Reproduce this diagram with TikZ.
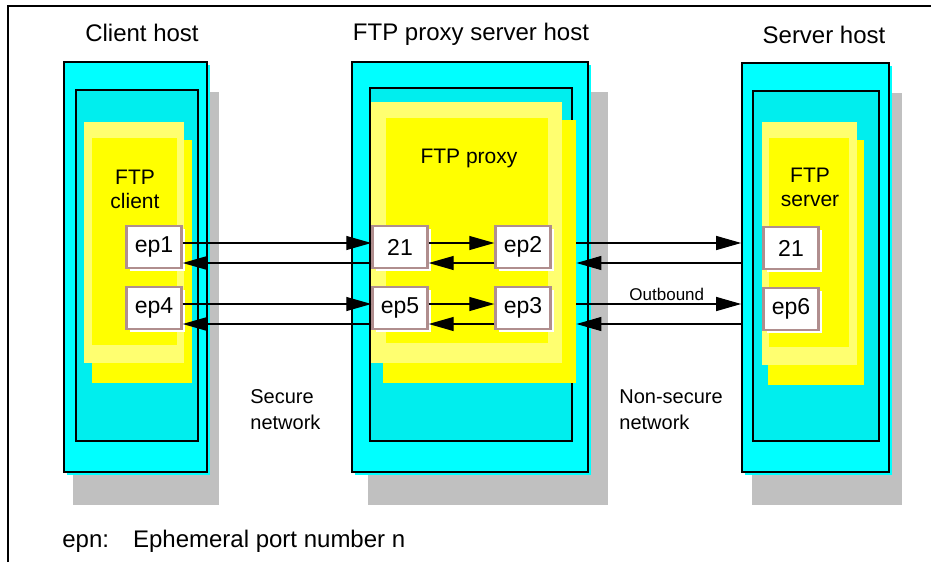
\documentclass[tikz,border=0pt]{standalone}
\usepackage{fontspec}
\setmainfont{Liberation Sans}
\usepackage{tikz}
\usetikzlibrary{positioning, arrows.meta, fit, shadows}
\definecolor{hostCyan}{HTML}{00FFFF}
\definecolor{innerCyan}{HTML}{00EEEE}
\definecolor{shadowGray}{HTML}{C0C0C0}
\definecolor{appYellow}{HTML}{FFFF00}
\definecolor{appPale}{HTML}{FFFF70}
\definecolor{portRose}{HTML}{B08E8E}
\tikzset{
  hostbox/.style={rectangle, draw=black, line width=0.8pt, fill=hostCyan,
    inner sep=0pt},
  innerbox/.style={rectangle, draw=black, line width=0.8pt, fill=innerCyan,
    inner sep=0pt},
  appbox/.style={rectangle, fill=appYellow, inner sep=0pt},
  port/.style={rectangle, draw=portRose, line width=1.2pt, fill=white,
    minimum width=27.5pt, minimum height=21pt, inner sep=0pt,
    font=\fontsize{11.5}{13}\selectfont,
    drop shadow={fill=white, opacity=1, shadow xshift=1.5pt,
      shadow yshift=-1.5pt}},
  flow/.style={-{Triangle[length=12.5pt, width=7pt]}, line width=0.6pt},
  hosttitle/.style={font=\fontsize{12}{14}\selectfont},
  applabel/.style={font=\fontsize{10.5}{12}\selectfont, align=center},
  netlabel/.style={font=\fontsize{10}{13}\selectfont, align=left,
    anchor=west, inner sep=0pt},
}

\begin{document}
\begin{tikzpicture}[x=0.5pt, y=-0.5pt]
    \useasboundingbox (0,0) rectangle (931,562);
    \draw[line width=0.6pt] (8,562) -- (8,6) -- (931,6);
    % ---------------- Client host ----------------
    \begin{scope}
      \fill[shadowGray] (73,92) rectangle (219,505);
      \fill[hostCyan] (67,65) rectangle (210,475);
      \node[hostbox, fit={(64,62) (207,472)}] (client) {};
      \node[innerbox, fit={(76,90) (198,441)}] (clientin) {};
      \fill[appYellow] (92,140) rectangle (192,383);
      \fill[appPale] (84,122) rectangle (184,363);
      \node[appbox, fit={(92,138) (177,345)}] (clientapp) {};
      \node[applabel] at (135,189) {FTP\\client};
      \node[port] (ep1) at (154,247) {ep1};
      \node[port] (ep4) at (154,308) {ep4};
      \node[hosttitle] at (142,33) {Client host};
    \end{scope}
    % ---------------- FTP proxy server host ----------------
    \begin{scope}
      \fill[shadowGray] (368,92) rectangle (608,505);
      \fill[hostCyan] (355,65) rectangle (591,475);
      \node[hostbox, fit={(352,62) (588,472)}] (proxy) {};
      \node[innerbox, fit={(370,88) (572,441)}] (proxyin) {};
      \node[appbox, fit={(383,120) (576,383)}] (proxyapp) {};
      \fill[appPale] (371,102) rectangle (562,363);
      \fill[appYellow] (386,118) rectangle (548,343);
      \node[applabel] at (469,158) {FTP proxy};
      \node[port] (p21) at (400,247) {21};
      \node[port] (ep2) at (523,247) {ep2};
      \node[port] (ep5) at (400,308) {ep5};
      \node[port] (ep3) at (523,308) {ep3};
      \node[hosttitle] at (471,34) {FTP proxy server host};
    \end{scope}
    % ---------------- Server host ----------------
    \begin{scope}
      \fill[shadowGray] (752,93) rectangle (902,505);
      \fill[hostCyan] (745,66) rectangle (892,475);
      \node[hostbox, fit={(742,63) (889,472)}] (server) {};
      \node[innerbox, fit={(753,91) (879,441)}] (serverin) {};
      \fill[appYellow] (768,140) rectangle (864,385);
      \fill[appPale] (762,122) rectangle (857,365);
      \node[appbox, fit={(769,138) (849,347)}] (serverapp) {};
      \node[applabel] at (810,187) {FTP\\server};
      \node[port] (s21) at (791,248) {21};
      \node[port] (ep6) at (791,309) {ep6};
      \node[hosttitle] at (824,35) {Server host};
    \end{scope}
    % ---------------- connections ----------------
    \foreach \a/\b in {ep1/p21, ep4/ep5, p21/ep2, ep5/ep3} {
      \draw[flow] ([yshift=2pt]\a.east) -- ([yshift=2pt]\b.west);
      \draw[flow] ([yshift=-8pt]\b.west) -- ([yshift=-8pt]\a.east);
    }
    \draw[flow] ([yshift=2pt]ep2.east -| proxyapp.east)
      -- ([yshift=2pt]ep2.east -| server.west);
    \draw[flow] ([yshift=-8pt]ep2.east -| server.west)
      -- ([yshift=-8pt]ep2.east -| proxyapp.east);
    \draw[flow] ([yshift=2pt]ep3.east -| proxyapp.east)
      -- ([yshift=2pt]ep3.east -| server.west)
      node[midway, above, xshift=4pt, inner sep=1.5pt,
           font=\fontsize{8.5}{10}\selectfont] {Outbound};
    \draw[flow] ([yshift=-8pt]ep3.east -| server.west)
      -- ([yshift=-8pt]ep3.east -| proxyapp.east);
    % ---------------- labels ----------------
    \node[netlabel] (secure) at (250,410) {Secure\\network};
    \node[netlabel] (nonsecure) at (619,410) {Non-secure\\network};
    \node[anchor=west, inner sep=0pt, font=\fontsize{12}{14}\selectfont]
      (legend) at (62,541) {epn:\hspace{12pt}Ephemeral port number n};
  \end{tikzpicture}
\end{document}
